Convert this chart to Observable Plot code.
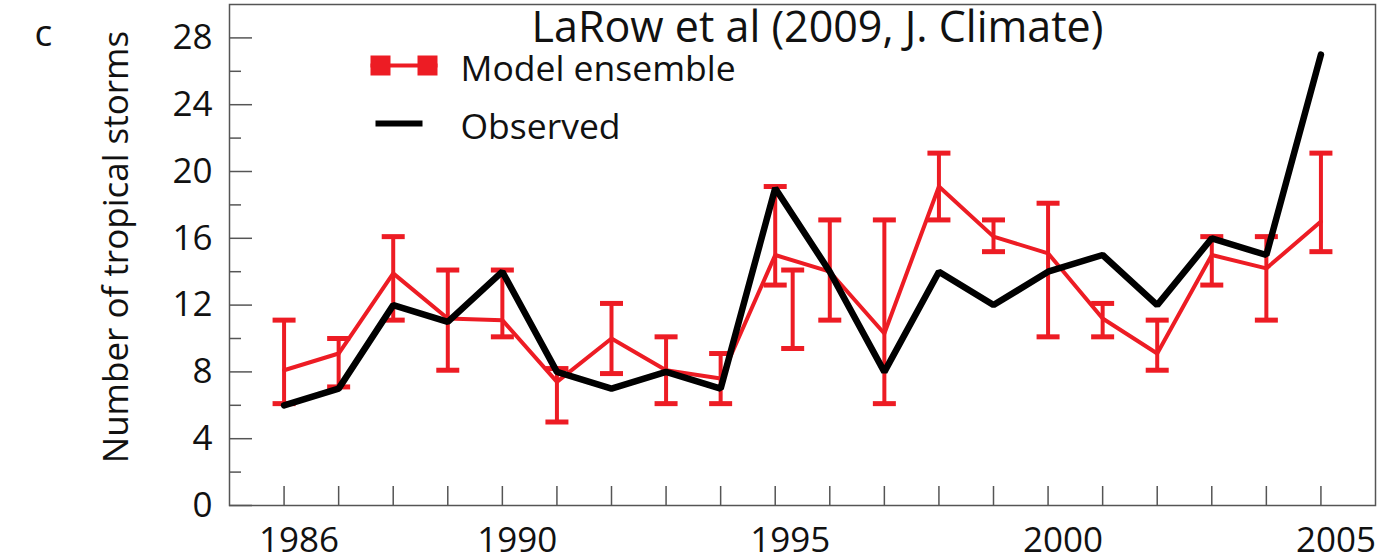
<!DOCTYPE html>
<html><head><meta charset="utf-8">
<script src="https://cdn.jsdelivr.net/npm/d3@7"></script>
<script src="https://cdn.jsdelivr.net/npm/@observablehq/plot@0.6"></script>
<style>body{margin:0;background:#fff}</style>
</head><body><div id="chart"></div>
<script>
// ---- data ----
const years      = [1986,1987,1988,1989,1990,1991,1992,1993,1994,1995,1996,1997,1998,1999,2000,2001,2002,2003,2004,2005];
const observed   = [6,7,12,11,14,8,7,8,7,19,14,8,14,12,14,15,12,16,15,27];
const modelMean  = [8.1,9.1,13.9,11.2,11.1,7.4,10.0,8.1,7.6,15.0,14.0,10.3,19.1,16.1,15.1,11.2,9.1,15.0,14.2,17.0];
const modelHigh  = [11.1,10.0,16.1,14.1,14.1,8.2,12.1,10.1,9.1,19.1,17.1,17.1,21.1,17.1,18.1,12.1,11.1,16.1,16.1,21.1];
const modelLow   = [6.1,7.1,11.1,8.1,10.1,5.0,7.9,6.1,6.1,13.2,11.1,6.1,17.1,15.2,10.1,10.1,8.1,13.2,11.1,15.2];
// stray extra error bar drawn just right of 1995 in the reference
const extraYear  = [1995.32];
const extraHigh  = [14.1];
const extraLow   = [9.4];
const yMajorTicks = [0,4,8,12,16,20,24,28];
const yMinorTicks = [2,6,10,14,18,22,26];
const xLabelTicks = [1986,1990,1995,2000,2005];
const titleText   = "LaRow et al (2009, J. Climate)";
const legendModel = "Model ensemble";
const legendObs   = "Observed";
const panelLabel  = "c";
const yLabel      = "Number of tropical storms";

const data  = years.map((year, i) => ({year, observed: observed[i], model: modelMean[i], low: modelLow[i], high: modelHigh[i]}));
const extra = extraYear.map((year, i) => ({year, low: extraLow[i], high: extraHigh[i]}));

const RED = "#ed1c24";
const AX = "#555";
const cap = {draw(ctx, size) { const r = Math.sqrt(size / Math.PI); ctx.moveTo(-r, 0); ctx.lineTo(r, 0); }};

const chart = Plot.plot({
  width: 1377, height: 560,
  marginTop: 4, marginLeft: 229, marginRight: 2, marginBottom: 55,
  style: {fontFamily: "'Open Sans', sans-serif", fontSize: "35px", color: "#111", background: "#fff", overflow: "visible"},
  x: {domain: [1985, 2006]},
  y: {domain: [0, 30]},
  marks: [
    Plot.frame({stroke: AX, strokeWidth: 1.5}),
    Plot.axisY(yMajorTicks, {tickSize: -23, text: null, label: null, stroke: AX, strokeWidth: 1.5}),
    Plot.axisY(yMinorTicks, {tickSize: -12, text: null, label: null, stroke: AX, strokeWidth: 1.5}),
    Plot.axisY(yMajorTicks, {tickSize: 0, tickPadding: 17, label: null, fill: "#111"}),
    Plot.text([yLabel], {frameAnchor: "left", textAnchor: "middle", rotate: -90, dx: -113, dy: -8, fontSize: 35, fill: "#111"}),
    Plot.axisX(years, {tickSize: -19, text: null, label: null, stroke: AX, strokeWidth: 1.5}),
    Plot.axisX(xLabelTicks, {tickSize: 0, tickPadding: 22, tickFormat: d => String(d), label: null, dx: 15, fill: "#111"}),
    // model ensemble
    Plot.ruleX(data, {x: "year", y1: "low", y2: "high", stroke: RED, strokeWidth: 4}),
    Plot.dot(data, {x: "year", y: "high", symbol: cap, r: 11.5, stroke: RED, strokeWidth: 5, fill: "none", strokeLinecap: "butt"}),
    Plot.dot(data, {x: "year", y: "low", symbol: cap, r: 11.5, stroke: RED, strokeWidth: 5, fill: "none", strokeLinecap: "butt"}),
    Plot.ruleX(extra, {x: "year", y1: "low", y2: "high", stroke: RED, strokeWidth: 4}),
    Plot.dot(extra, {x: "year", y: "high", symbol: cap, r: 11.5, stroke: RED, strokeWidth: 5, fill: "none"}),
    Plot.dot(extra, {x: "year", y: "low", symbol: cap, r: 11.5, stroke: RED, strokeWidth: 5, fill: "none"}),
    Plot.line(data, {x: "year", y: "model", stroke: RED, strokeWidth: 4}),
    // observed
    Plot.line(data, {x: "year", y: "observed", stroke: "#000", strokeWidth: 6.5, strokeLinejoin: "miter"}),
    // title
    Plot.text([titleText], {frameAnchor: "top", dx: 15, dy: 7, lineAnchor: "top", fontSize: 43, fill: "#111"}),
    // legend
    Plot.frame({fill: RED, stroke: "none", insetLeft: 141, insetRight: 938, insetTop: 59, insetBottom: 438}),
    Plot.frame({fill: RED, stroke: "none", insetLeft: 141, insetRight: 985, insetTop: 51, insetBottom: 430}),
    Plot.frame({fill: RED, stroke: "none", insetLeft: 188, insetRight: 938, insetTop: 51, insetBottom: 430}),
    Plot.frame({fill: "#000", stroke: "none", insetLeft: 146, insetRight: 953, insetTop: 116, insetBottom: 379}),
    Plot.text([legendModel], {frameAnchor: "top-left", textAnchor: "start", dx: 231, dy: 51, fontSize: 35.5, fill: "#111"}),
    Plot.text([legendObs], {frameAnchor: "top-left", textAnchor: "start", dx: 231, dy: 109, fontSize: 35.5, fill: "#111"}),
    // panel label
    Plot.text([panelLabel], {frameAnchor: "top-left", dx: -195, dy: 15, fontSize: 37, fill: "#111"})
  ]
});
document.getElementById("chart").appendChild(chart);
</script>
</body></html>
